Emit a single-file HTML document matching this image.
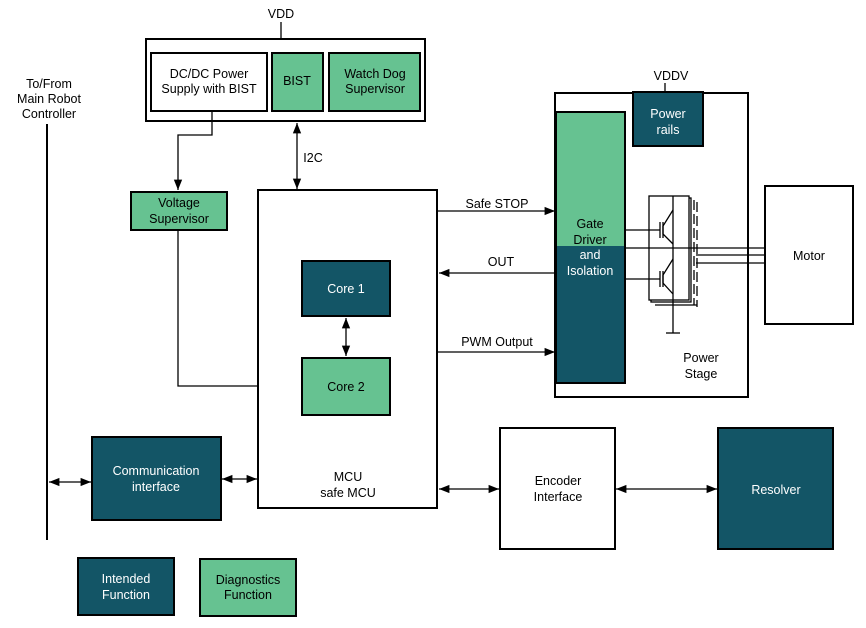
<!DOCTYPE html>
<html><head><meta charset="utf-8"><style>
body{margin:0;background:#fff}
svg{display:block}
text{font-family:"Liberation Sans",sans-serif;font-size:12.5px;text-anchor:middle}
.w{fill:#fff}
</style></head><body>
<svg width="866" height="628" viewBox="0 0 866 628" xmlns="http://www.w3.org/2000/svg">
<defs>
<marker id="a" viewBox="0 0 10 10" refX="10" refY="5" markerWidth="8" markerHeight="8" orient="auto-start-reverse"><path d="M0,1 L10,5 L0,9 z" fill="#000"/></marker>
</defs>
<g stroke="#000" stroke-width="1.3" fill="none">
<!-- VDD -->
<line x1="281" y1="22" x2="281" y2="39"/>
<rect x="146" y="39" width="279" height="82" stroke-width="2"/>
<rect x="151" y="53" width="116" height="58" stroke-width="2"/>
<rect x="272" y="53" width="51" height="58" fill="#66c291" stroke-width="2"/>
<rect x="329" y="53" width="91" height="58" fill="#66c291" stroke-width="2"/>
<polyline points="212,111 212,135 178,135 178,190" marker-end="url(#a)"/>
<rect x="131" y="192" width="96" height="38" fill="#66c291" stroke-width="2"/>
<line x1="297" y1="123" x2="297" y2="189" marker-start="url(#a)" marker-end="url(#a)"/>
<!-- MCU -->
<rect x="258" y="190" width="179" height="318" stroke-width="2"/>
<rect x="302" y="261" width="88" height="55" fill="#135566" stroke-width="2"/>
<rect x="302" y="358" width="88" height="57" fill="#66c291" stroke-width="2"/>
<line x1="346" y1="318" x2="346" y2="356" marker-start="url(#a)" marker-end="url(#a)"/>
<polyline points="178,230 178,386 258,386"/>
<!-- left -->
<line x1="47" y1="124" x2="47" y2="540" stroke-width="2"/>
<rect x="92" y="437" width="129" height="83" fill="#135566" stroke-width="2"/>
<line x1="49" y1="482" x2="91" y2="482" marker-start="url(#a)" marker-end="url(#a)"/>
<line x1="222" y1="479" x2="257" y2="479" marker-start="url(#a)" marker-end="url(#a)"/>
<!-- signals -->
<line x1="437" y1="211" x2="555" y2="211" marker-end="url(#a)"/>
<line x1="556" y1="273" x2="439" y2="273" marker-end="url(#a)"/>
<line x1="437" y1="352" x2="555" y2="352" marker-end="url(#a)"/>
<!-- power stage -->
<rect x="555" y="93" width="193" height="304" stroke-width="2"/>
<rect x="556" y="112" width="69" height="134" fill="#66c291" stroke="none"/>
<rect x="556" y="246" width="69" height="137" fill="#135566" stroke="none"/>
<rect x="556" y="112" width="69" height="271" stroke-width="2"/>
<line x1="665" y1="83" x2="665" y2="92"/>
<rect x="633" y="92" width="70" height="54" fill="#135566" stroke-width="2"/>
<!-- transistor -->
<rect x="651" y="198" width="40" height="104" fill="#fff"/>
<rect x="649" y="196" width="40" height="104" fill="#fff"/>
<line x1="673" y1="196" x2="673" y2="333"/>
<line x1="666" y1="333" x2="680" y2="333"/>
<line x1="625" y1="230" x2="660" y2="230"/>
<line x1="625" y1="279" x2="660" y2="279"/>
<line x1="660" y1="222" x2="660" y2="238"/><line x1="663" y1="222" x2="663" y2="238"/>
<line x1="660" y1="271" x2="660" y2="287"/><line x1="663" y1="271" x2="663" y2="287"/>
<polyline points="673,210 663,226 663,234 673,244"/>
<polyline points="673,259 663,275 663,283 673,294"/>
<line x1="694" y1="200" x2="694" y2="305" stroke-dasharray="10,4"/>
<line x1="697" y1="202" x2="697" y2="307" stroke-dasharray="10,4"/>
<line x1="655" y1="305" x2="697" y2="305"/>
<line x1="625" y1="248" x2="765" y2="248"/>
<line x1="696" y1="255" x2="765" y2="255"/>
<line x1="696" y1="263" x2="765" y2="263"/>
<rect x="765" y="186" width="88" height="138" stroke-width="2" fill="#fff"/>
<!-- encoder -->
<rect x="500" y="428" width="115" height="121" stroke-width="2"/>
<line x1="439" y1="489" x2="499" y2="489" marker-start="url(#a)" marker-end="url(#a)"/>
<line x1="616" y1="489" x2="717" y2="489" marker-start="url(#a)" marker-end="url(#a)"/>
<rect x="718" y="428" width="115" height="121" fill="#135566" stroke-width="2"/>
<!-- legend -->
<rect x="78" y="558" width="96" height="57" fill="#135566" stroke-width="2"/>
<rect x="200" y="559" width="96" height="57" fill="#66c291" stroke-width="2"/>
</g>
<text x="281" y="18">VDD</text>
<text x="209" y="78">DC/DC Power</text><text x="209" y="93">Supply with BIST</text>
<text x="297" y="85">BIST</text>
<text x="375" y="78">Watch Dog</text><text x="375" y="93">Supervisor</text>
<text x="313" y="162">I2C</text>
<text x="179" y="207">Voltage</text><text x="179" y="223">Supervisor</text>
<text x="346" y="293" class="w">Core 1</text>
<text x="346" y="391">Core 2</text>
<text x="348" y="481">MCU</text><text x="348" y="497">safe MCU</text>
<text x="49" y="88">To/From</text><text x="49" y="103">Main Robot</text><text x="49" y="118">Controller</text>
<text x="156" y="475" class="w">Communication</text><text x="156" y="491" class="w">interface</text>
<text x="497" y="208">Safe STOP</text>
<text x="501" y="266">OUT</text>
<text x="497" y="346">PWM Output</text>
<text x="590" y="228">Gate</text><text x="590" y="244">Driver</text>
<text x="590" y="259" class="w">and</text><text x="590" y="275" class="w">Isolation</text>
<text x="671" y="80">VDDV</text>
<text x="668" y="118" class="w">Power</text><text x="668" y="134" class="w">rails</text>
<text x="701" y="362">Power</text><text x="701" y="378">Stage</text>
<text x="809" y="260">Motor</text>
<text x="558" y="485">Encoder</text><text x="558" y="501">Interface</text>
<text x="776" y="494" class="w">Resolver</text>
<text x="126" y="583" class="w">Intended</text><text x="126" y="599" class="w">Function</text>
<text x="248" y="584">Diagnostics</text><text x="248" y="599">Function</text>
</svg>
</body></html>
